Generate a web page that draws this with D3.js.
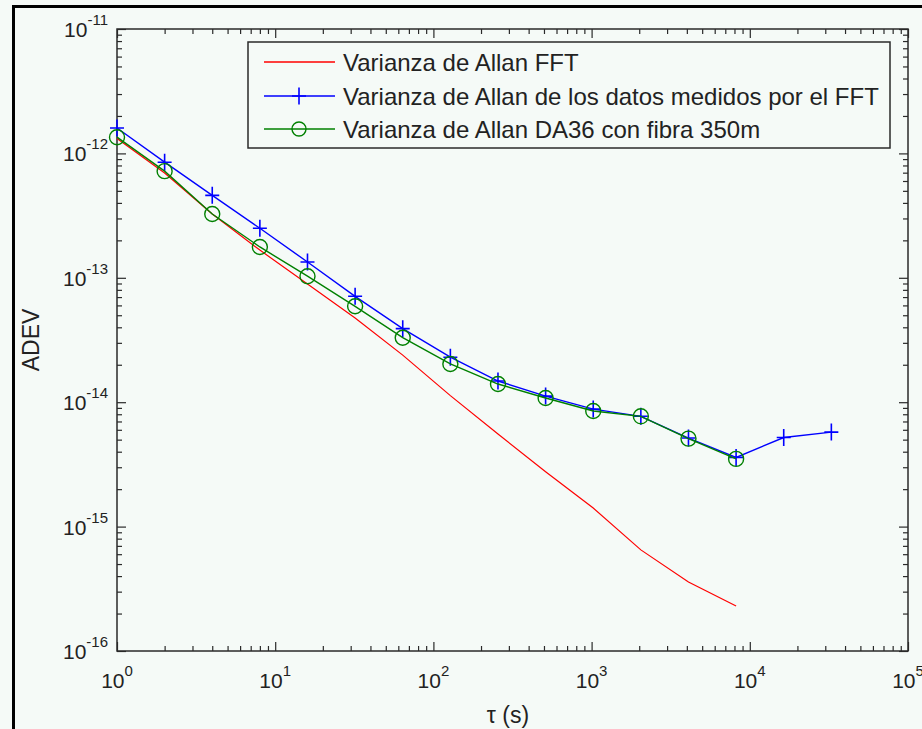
<!DOCTYPE html>
<html>
<head>
<meta charset="utf-8">
<script src="https://cdn.jsdelivr.net/npm/d3@7/dist/d3.min.js"></script>
<style>
  html, body { margin: 0; padding: 0; background: #f5faf7; }
  svg { display: block; }
  text { font-family: "Liberation Sans", Arial, sans-serif; fill: #222; }
</style>
</head>
<body>
<svg id="chart" width="922" height="729"></svg>
<script>
// ---- data ----
const tau = [1, 2, 4, 8, 16, 32, 64, 128, 256, 512, 1024, 2048, 4096, 8192, 16384, 32768];
const adevFFT = [1.32e-12, 6.95e-13, 3.26e-13, 1.67e-13, 8.9e-14, 4.75e-14, 2.39e-14, 1.13e-14,
                 5.55e-15, 2.76e-15, 1.41e-15, 6.5e-16, 3.58e-16, 2.3e-16];
const adevMeasured = [1.6e-12, 8.5e-13, 4.6e-13, 2.5e-13, 1.34e-13, 7.1e-14, 3.9e-14, 2.3e-14,
                      1.48e-14, 1.12e-14, 8.8e-15, 7.7e-15, 5.15e-15, 3.6e-15, 5.2e-15, 5.75e-15];
const adevDA36 = [1.35e-12, 7.2e-13, 3.26e-13, 1.77e-13, 1.03e-13, 5.9e-14, 3.3e-14, 2.03e-14,
                  1.4e-14, 1.08e-14, 8.5e-15, 7.7e-15, 5.1e-15, 3.5e-15];
const xTickExps = [0, 1, 2, 3, 4, 5];
const yTickExps = [-16, -15, -14, -13, -12, -11];
const seriesNames = ["Varianza de Allan FFT",
                     "Varianza de Allan de los datos medidos por el FFT",
                     "Varianza de Allan DA36 con fibra 350m"];
const xLabel = "τ (s)";
const yLabel = "ADEV";

// ---- layout ----
const L = 117, R = 908, T = 29, B = 651;
const svg = d3.select("#chart");

const x = d3.scaleLog().domain([1, 1e5]).range([L, R]);
const y = d3.scaleLog().domain([1e-16, 1e-11]).range([B, T]);

// frame borders of the window
svg.append("rect").attr("x", 12).attr("y", 5).attr("width", 910).attr("height", 3).attr("fill", "#000");
svg.append("rect").attr("x", 12).attr("y", 5).attr("width", 3).attr("height", 724).attr("fill", "#000");

// ticks
const minorX = [], minorY = [];
for (let e = 0; e < 5; e++) for (let m = 2; m <= 9; m++) minorX.push(m * Math.pow(10, e));
for (let e = -16; e < -11; e++) for (let m = 2; m <= 9; m++) minorY.push(m * Math.pow(10, e));
const majorX = xTickExps.map(e => Math.pow(10, e));
const majorY = yTickExps.map(e => Math.pow(10, e));

const axCol = "#2a2a2a";
function addAxis(gen, transform) {
  const g = svg.append("g").attr("transform", transform).call(gen);
  g.select(".domain").remove();
  g.selectAll("line").attr("stroke", axCol).attr("stroke-width", 1.2);
  g.selectAll("text").remove();
  return g;
}
// bottom & top
addAxis(d3.axisBottom(x).tickValues(minorX).tickSize(-5).tickFormat(""), `translate(0,${B})`);
addAxis(d3.axisBottom(x).tickValues(majorX).tickSize(-9).tickFormat(""), `translate(0,${B})`);
addAxis(d3.axisTop(x).tickValues(minorX).tickSize(-5).tickFormat(""), `translate(0,${T})`);
addAxis(d3.axisTop(x).tickValues(majorX).tickSize(-9).tickFormat(""), `translate(0,${T})`);
// left & right
addAxis(d3.axisLeft(y).tickValues(minorY).tickSize(-5).tickFormat(""), `translate(${L},0)`);
addAxis(d3.axisLeft(y).tickValues(majorY).tickSize(-9).tickFormat(""), `translate(${L},0)`);
addAxis(d3.axisRight(y).tickValues(minorY).tickSize(-5).tickFormat(""), `translate(${R},0)`);
addAxis(d3.axisRight(y).tickValues(majorY).tickSize(-9).tickFormat(""), `translate(${R},0)`);

// box
svg.append("rect").attr("x", L).attr("y", T).attr("width", R - L).attr("height", B - T)
  .attr("fill", "none").attr("stroke", axCol).attr("stroke-width", 1.5);

// tick labels
xTickExps.forEach(e => {
  const t = svg.append("text").attr("x", x(Math.pow(10, e))).attr("y", 688)
    .attr("text-anchor", "middle").attr("font-size", 21);
  t.append("tspan").text("10");
  t.append("tspan").attr("dy", -12).attr("font-size", 15).text(e);
});
yTickExps.forEach(e => {
  const t = svg.append("text").attr("x", 108).attr("y", y(Math.pow(10, e)) + 8)
    .attr("text-anchor", "end").attr("font-size", 21);
  t.append("tspan").text("10");
  t.append("tspan").attr("dy", -12).attr("font-size", 15).text(e);
});

// axis labels
svg.append("text").attr("x", 508).attr("y", 723).attr("text-anchor", "middle")
  .attr("font-size", 23).text(xLabel);
svg.append("text").attr("transform", "translate(39,340) rotate(-90)").attr("text-anchor", "middle")
  .attr("font-size", 23).text(yLabel);

// ---- series ----
const plot = svg.append("g");

const line = d3.line().x(d => x(d[0])).y(d => y(d[1]));
const red = "#ff0000", blue = "#0000ff", green = "#008000";

const dFFT = adevFFT.map((v, i) => [tau[i], v]);
const dMeas = adevMeasured.map((v, i) => [tau[i], v]);
const dDA = adevDA36.map((v, i) => [tau[i], v]);

function plusPath(cx, cy) {
  return `M${cx - 7},${cy}H${cx + 7}M${cx},${cy - 8.5}V${cy + 8.5}`;
}

plot.append("path").datum(dFFT).attr("d", line).attr("fill", "none")
  .attr("stroke", red).attr("stroke-width", 1.2);

plot.append("path").datum(dMeas).attr("d", line).attr("fill", "none")
  .attr("stroke", blue).attr("stroke-width", 1.4);
plot.selectAll(".plus").data(dMeas).enter().append("path")
  .attr("d", d => plusPath(x(d[0]), y(d[1])))
  .attr("stroke", blue).attr("stroke-width", 1.6).attr("fill", "none");

plot.append("path").datum(dDA).attr("d", line).attr("fill", "none")
  .attr("stroke", green).attr("stroke-width", 1.4);
plot.selectAll(".circ").data(dDA).enter().append("circle")
  .attr("cx", d => x(d[0])).attr("cy", d => y(d[1])).attr("r", 7.5)
  .attr("stroke", green).attr("stroke-width", 1.4).attr("fill", "none");

// ---- legend ----
const lg = svg.append("g");
lg.append("rect").attr("x", 248).attr("y", 42).attr("width", 642).attr("height", 106)
  .attr("fill", "#f5faf7").attr("stroke", axCol).attr("stroke-width", 1.5);
const rows = [62, 96, 129];
const cols = [red, blue, green];
seriesNames.forEach((name, i) => {
  lg.append("line").attr("x1", 264).attr("x2", 335).attr("y1", rows[i]).attr("y2", rows[i])
    .attr("stroke", cols[i]).attr("stroke-width", 1.4);
  if (i === 1) lg.append("path").attr("d", plusPath(299, rows[i])).attr("stroke", blue)
    .attr("stroke-width", 1.6).attr("fill", "none");
  if (i === 2) lg.append("circle").attr("cx", 299).attr("cy", rows[i]).attr("r", 7)
    .attr("stroke", green).attr("stroke-width", 1.4).attr("fill", "none");
  lg.append("text").attr("x", 343).attr("y", rows[i] + 8.5).attr("font-size", 24).text(name);
});
</script>
</body>
</html>
